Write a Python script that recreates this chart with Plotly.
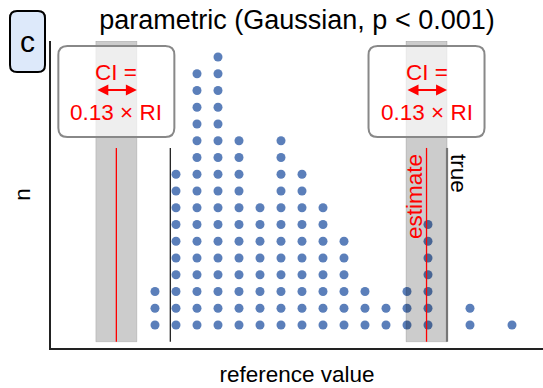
import plotly.graph_objects as go

# ---- data ----
bin_index = list(range(18))
counts = [3, 10, 16, 17, 12, 8, 12, 10, 8, 6, 3, 2, 3, 7, 0, 2, 0, 1]
lower_ci_center = -1.84      # left CI band centre (estimate)
lower_true = 0.73            # true lower limit
upper_estimate = 12.93       # estimate
upper_true = 13.905          # true upper limit
ci_width = 1.955             # CI width (0.13 x RI)
line_top = 11.57             # height of estimate/true lines
title_text = "parametric (Gaussian, p < 0.001)"
ci_label_top = "CI ="
ci_label_bottom = "0.13 × RI"
panel_label = "c"

# ---- scales (px per unit) ----
PX_X = 21.0
PX_Y = 16.75
x_range = [-4.952, 18.476]
y_range = [-0.373, 17.955]

FONT = "Liberation Sans, Arial, sans-serif"
DOT = "#5b7fba"

xs, ys = [], []
for b, c in zip(bin_index, counts):
    for k in range(1, c + 1):
        xs.append(b)
        ys.append(k)

fig = go.Figure()
fig.add_trace(go.Scatter(x=xs, y=ys, mode="markers",
                         marker=dict(size=9, color=DOT, line=dict(width=0)),
                         hoverinfo="skip", showlegend=False))

shapes = []
annotations = []


def rounded(x0, x1, y0, y1, r_px):
    rx = r_px / PX_X
    ry = r_px / PX_Y
    return (f"M {x0+rx},{y0} L {x1-rx},{y0} Q {x1},{y0} {x1},{y0+ry} "
            f"L {x1},{y1-ry} Q {x1},{y1} {x1-rx},{y1} L {x0+rx},{y1} "
            f"Q {x0},{y1} {x0},{y1-ry} L {x0},{y0+ry} Q {x0},{y0} {x0+rx},{y0} Z")


for center in [lower_ci_center, upper_estimate]:
    x0 = center - ci_width / 2
    x1 = center + ci_width / 2
    # CI band
    shapes.append(dict(type="rect", xref="x", yref="y", x0=x0, x1=x1, y0=0, y1=y_range[1],
                       fillcolor="rgba(0,0,0,0.2)", line=dict(color="rgba(0,0,0,0.12)", width=1),
                       layer="above"))
    # estimate line
    shapes.append(dict(type="line", xref="x", yref="y", x0=center, x1=center, y0=0, y1=line_top,
                       line=dict(color="red", width=1.3), layer="above"))
    # label box
    half_w = 58 / PX_X
    shapes.append(dict(type="path", xref="x", yref="y",
                       path=rounded(center - half_w, center + half_w, 12.22, 17.66, 9),
                       fillcolor="rgba(255,255,255,0.67)", line=dict(color="#888888", width=2),
                       layer="above"))
    annotations.append(dict(x=center, y=16.1, xref="x", yref="y", text=ci_label_top, showarrow=False,
                            font=dict(family=FONT, size=22.5, color="red")))
    annotations.append(dict(x=center, y=13.66, xref="x", yref="y", text=ci_label_bottom, showarrow=False,
                            font=dict(family=FONT, size=22.5, color="red")))
    annotations.append(dict(x=x1, y=15.03, ax=x0, ay=15.03, xref="x", yref="y", axref="x", ayref="y",
                            text="", showarrow=True, arrowhead=2, arrowside="end+start",
                            arrowsize=1.1, arrowwidth=2, arrowcolor="red", standoff=0, startstandoff=0))

# true lines
shapes.append(dict(type="line", xref="x", yref="y", x0=lower_true, x1=lower_true, y0=0, y1=line_top,
                   line=dict(color="#222222", width=1.3), layer="above"))
shapes.append(dict(type="line", xref="x", yref="y", x0=upper_true, x1=upper_true, y0=0, y1=line_top,
                   line=dict(color="#777777", width=2.2), layer="above"))

annotations.append(dict(x=upper_estimate - 0.58, y=line_top - 0.25, xref="x", yref="y", text="estimate",
                        textangle=-90, showarrow=False, xanchor="center", yanchor="top",
                        font=dict(family=FONT, size=22.5, color="red")))
annotations.append(dict(x=upper_true + 0.55, y=line_top - 0.25, xref="x", yref="y", text="true",
                        textangle=90, showarrow=False, xanchor="center", yanchor="top",
                        font=dict(family=FONT, size=22.5, color="black")))

# panel label box (paper coords, outside plot)
L, T, W, H = 51, 41, 492, 307


def px2paper_x(px):
    return (px - L) / W


def px2paper_y(py):
    return (T + H - py) / H


bx0, bx1, by0, by1 = px2paper_x(10), px2paper_x(45), px2paper_y(72), px2paper_y(11)
rxp, ryp = 7 / W, 7 / H
shapes.append(dict(type="path", xref="paper", yref="paper",
                   path=(f"M {bx0+rxp},{by0} L {bx1-rxp},{by0} Q {bx1},{by0} {bx1},{by0+ryp} "
                         f"L {bx1},{by1-ryp} Q {bx1},{by1} {bx1-rxp},{by1} L {bx0+rxp},{by1} "
                         f"Q {bx0},{by1} {bx0},{by1-ryp} L {bx0},{by0+ryp} Q {bx0},{by0} {bx0+rxp},{by0} Z"),
                   fillcolor="#dde9fa", line=dict(color="black", width=2), layer="above"))
annotations.append(dict(x=(bx0 + bx1) / 2, y=(by0 + by1) / 2, xref="paper", yref="paper",
                        text=panel_label, showarrow=False, xanchor="center", yanchor="middle",
                        font=dict(family=FONT, size=30, color="black")))

fig.update_layout(
    width=543, height=388,
    margin=dict(l=L, r=0, t=T, b=388 - T - H, pad=0),
    paper_bgcolor="white", plot_bgcolor="white",
    shapes=shapes, annotations=annotations,
    title=dict(text=title_text, x=0.5, xref="paper", y=1 - 20 / 388, yref="container",
               xanchor="center", yanchor="middle", font=dict(family=FONT, size=27, color="black")),
    xaxis=dict(range=x_range, showgrid=False, zeroline=False, showticklabels=False, ticks="",
               showline=True, linecolor="#222222", linewidth=1.5,
               title=dict(text="reference value", standoff=17, font=dict(family=FONT, size=22.5, color="black"))),
    yaxis=dict(range=y_range, showgrid=False, zeroline=False, showticklabels=False, ticks="",
               showline=True, linecolor="#222222", linewidth=1.5,
               title=dict(text="n", standoff=12, font=dict(family=FONT, size=22.5, color="black"))),
    showlegend=False,
)

fig.write_html("out.html")
